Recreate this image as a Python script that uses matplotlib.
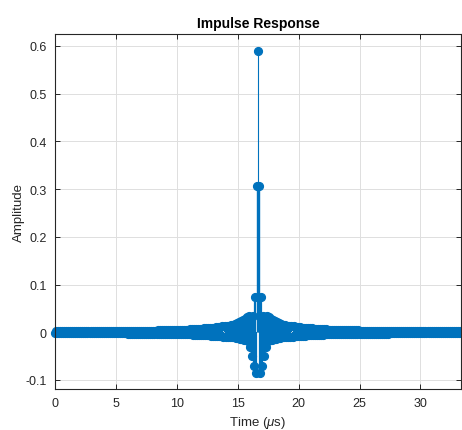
import numpy as np
import matplotlib
matplotlib.use("Agg")
import matplotlib.pyplot as plt

plt.rcParams['font.family'] = ['Liberation Sans', 'DejaVu Sans']
plt.rcParams['axes.unicode_minus'] = False
plt.rcParams['mathtext.fontset'] = 'custom'
plt.rcParams['mathtext.rm'] = 'Liberation Sans'
plt.rcParams['mathtext.it'] = 'Liberation Sans:italic'

# ---- data ----
sample_rate_mhz = 12          # samples per microsecond
peak_value = 0.59
# tap values to the right of the peak (k = 1 .. 200); filter is symmetric
right_taps = [
    0.307, -0.085, 0.073, -0.070, 0.035, -0.050, 0.032, -0.030, 0.033, -0.018,
    0.031, -0.017, 0.028, -0.016, 0.025, -0.015, 0.023, -0.014, 0.021, -0.013,
    0.019, -0.012, 0.018, -0.011, 0.016, -0.011, 0.015, -0.010, 0.014, -0.010,
    0.013, -0.009, 0.012, -0.009, 0.012, -0.008, 0.011, -0.008, 0.010, -0.008,
    0.010, -0.007, 0.009, -0.007, 0.009, -0.007, 0.009, -0.006, 0.008, -0.006,
    0.008, -0.006, 0.008, -0.006, 0.007, -0.005, 0.007, -0.005, 0.007, -0.005,
    0.006, -0.005, 0.006, -0.005, 0.006, -0.004, 0.006, -0.004, 0.005, -0.004,
    0.005, -0.004, 0.005, -0.004, 0.005, -0.004, 0.005, -0.003, 0.004, -0.003,
    0.004, -0.003, 0.004, -0.003, 0.004, -0.003, 0.004, -0.003, 0.004, -0.003,
    0.004, -0.003, 0.004, -0.003, 0.004, -0.003, 0.004, -0.003, 0.004, -0.003,
    0.003, -0.003, 0.003, -0.003, 0.003, -0.003, 0.003, -0.003, 0.003, -0.003,
    0.003, -0.003, 0.003, -0.003, 0.003, -0.003, 0.003, -0.003, 0.003, -0.003,
    0.003, -0.003, 0.003, -0.003, 0.003, -0.003, 0.003, -0.003, 0.003, -0.002,
    0.003, -0.002, 0.003, -0.002, 0.003, -0.002, 0.003, -0.002, 0.003, -0.002,
    0.002, -0.002, 0.002, -0.002, 0.002, -0.002, 0.002, -0.002, 0.002, -0.002,
    0.002, -0.002, 0.002, -0.002, 0.002, -0.002, 0.002, -0.002, 0.002, -0.002,
    0.002, -0.002, 0.002, -0.002, 0.002, -0.002, 0.002, -0.002, 0.002, -0.002,
    0.002, -0.002, 0.002, -0.002, 0.002, -0.002, 0.002, -0.002, 0.002, -0.002,
    0.002, -0.002, 0.002, -0.002, 0.002, -0.002, 0.002, -0.002, 0.002, -0.002,
    0.002, -0.002, 0.002, -0.002, 0.002, -0.002, 0.002, -0.002, 0.002, -0.002,
]
left_taps = right_taps[::-1]
x_ticks = [0, 5, 10, 15, 20, 25, 30]
y_ticks = [-0.1, 0, 0.1, 0.2, 0.3, 0.4, 0.5, 0.6]
y_tick_labels = ['-0.1', '0', '0.1', '0.2', '0.3', '0.4', '0.5', '0.6']

h = np.array(left_taps + [peak_value] + right_taps)
t = np.arange(len(h)) / sample_rate_mhz

# ---- figure ----
color = '#0072BD'
axcol = '#262626'
fig = plt.figure(figsize=(4.62, 4.31), dpi=100)
ax = fig.add_axes([55/462, 41/431, 406/462, 355/431])

markerline, stemlines, baseline = ax.stem(t, h, basefmt=' ')
stemlines.set_color(color)
c = len(left_taps)
widths = np.full(len(h), 1.6)
widths[c] = 0.8                 # thin central (peak) stem
widths[c - 1] = 1.0
widths[c + 1] = 1.0
stemlines.set_linewidths(widths)
markerline.set_color(color)
markerline.set_marker('o')
markerline.set_markersize(5.6)
markerline.set_markerfacecolor(color)
markerline.set_markeredgecolor(color)
markerline.set_clip_on(False)

ax.set_xlim(0, t[-1])
ax.set_ylim(-0.119, 0.625)
ax.set_xticks(x_ticks)
ax.set_yticks(y_ticks)
ax.set_yticklabels(y_tick_labels)
ax.grid(True, color='#dedede', linewidth=0.7)
ax.set_axisbelow(True)
ax.tick_params(direction='in', top=True, right=True, length=3.5, width=0.7,
               colors=axcol, labelsize=9, labelcolor=axcol, pad=6)
for s in ax.spines.values():
    s.set_color(axcol)
    s.set_linewidth(0.8)

ax.set_title('Impulse Response', fontsize=10, fontweight='bold', color='black', pad=5)
ax.set_xlabel(r'Time ($\mu$s)', fontsize=9.5, color=axcol, labelpad=3.5)
ax.set_ylabel('Amplitude', fontsize=9.5, color=axcol, labelpad=0)

fig.savefig('out.png', dpi=100)
